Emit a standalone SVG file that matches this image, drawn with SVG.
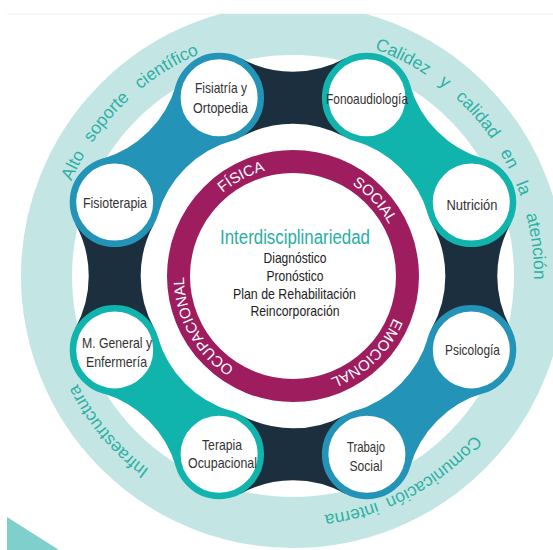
<svg xmlns="http://www.w3.org/2000/svg" xmlns:xlink="http://www.w3.org/1999/xlink" width="553" height="550" viewBox="0 0 553 550">
<defs>
<style>
.lbl{font-family:"Liberation Sans",Arial,sans-serif;font-size:14.5px;fill:#333;text-anchor:middle}
.ctr{font-family:"Liberation Sans",Arial,sans-serif;font-size:14.5px;fill:#222;text-anchor:middle}
.ring-t{font-family:"Liberation Sans",Arial,sans-serif;font-size:17.5px;fill:#2fb0a4;text-anchor:middle}
.mag-t{font-family:"Liberation Sans",Arial,sans-serif;font-size:15px;fill:#ffffff;text-anchor:middle}
.navy{fill:#1c2f3e}
.blue{fill:#2393b7}
.teal{fill:#10b4ad}
.nb{fill:#fff;stroke:#2393b7;stroke-width:6.5}
.nt{fill:#fff;stroke:#10b4ad;stroke-width:6.5}
</style>
<clipPath id="page"><rect x="7" y="14" width="546" height="536"/></clipPath>
<path id="outerArc" d="M293,517 A241,241 0 1 1 293,35 A241,241 0 1 1 293,517"/>
<path id="innerArc" d="M293,385 A109,109 0 1 1 293,167 A109,109 0 1 1 293,385"/>
<path id="conn" d="M217.7,-52.2 A108.2,108.2 0 0 0 217.7,52.2 L178.3,73.9 L138.9,52.2 A108.2,108.2 0 0 0 138.9,-52.2 L178.3,-73.9 Z"/>
</defs>
<rect width="553" height="550" fill="#fff"/>
<line x1="7" y1="14" x2="553" y2="14" stroke="#f1f1f1" stroke-width="1"/>
<g id="outer-ring">
<circle cx="293" cy="276" r="246.5" fill="none" stroke="#c3e6e4" stroke-width="51" clip-path="url(#page)"/>
<polygon points="7,517 59,550 7,550" fill="#7fd0cc"/>
<text class="ring-t"><textPath href="#outerArc" startOffset="490.9">Alto</textPath></text>
<text class="ring-t"><textPath href="#outerArc" startOffset="548.5">soporte</textPath></text>
<text class="ring-t"><textPath href="#outerArc" startOffset="625.9">científico</textPath></text>
<text class="ring-t"><textPath href="#outerArc" startOffset="869">Calidez</textPath></text>
<text class="ring-t"><textPath href="#outerArc" startOffset="917">y</textPath></text>
<text class="ring-t"><textPath href="#outerArc" startOffset="962.4">calidad</textPath></text>
<text class="ring-t"><textPath href="#outerArc" startOffset="1015.4">en</textPath></text>
<text class="ring-t"><textPath href="#outerArc" startOffset="1047.3">la</textPath></text>
<text class="ring-t"><textPath href="#outerArc" startOffset="1105.8">atención</textPath></text>
<text class="ring-t"><textPath href="#outerArc" startOffset="1364">Comunicación</textPath></text>
<text class="ring-t"><textPath href="#outerArc" startOffset="1455.5">interna</textPath></text>
<text class="ring-t"><textPath href="#outerArc" startOffset="210.3">Infraestructura</textPath></text>
</g>
<g id="connectors">
<use href="#conn" class="navy" transform="translate(293,276) rotate(0)"/>
<use href="#conn" class="blue" transform="translate(293,276) rotate(45)"/>
<use href="#conn" class="navy" transform="translate(293,276) rotate(90)"/>
<use href="#conn" class="teal" transform="translate(293,276) rotate(135)"/>
<use href="#conn" class="navy" transform="translate(293,276) rotate(180)"/>
<use href="#conn" class="blue" transform="translate(293,276) rotate(225)"/>
<use href="#conn" class="navy" transform="translate(293,276) rotate(270)"/>
<use href="#conn" class="teal" transform="translate(293,276) rotate(315)"/>
</g>
<g id="center">
<circle cx="293" cy="276" r="114.5" fill="none" stroke="#9d1d5f" stroke-width="23"/>
<text class="mag-t"><textPath href="#innerArc" startOffset="289.7">FÍSICA</textPath></text>
<text class="mag-t"><textPath href="#innerArc" startOffset="431.8">SOCIAL</textPath></text>
<text class="mag-t"><textPath href="#innerArc" startOffset="601.2">EMOCIONAL</textPath></text>
<text class="mag-t"><textPath href="#innerArc" startOffset="116">OCUPACIONAL</textPath></text>
<text class="ctr" x="295" y="244" style="font-size:19.5px;fill:#29aea4" textLength="150" lengthAdjust="spacingAndGlyphs">Interdisciplinariedad</text>
<text class="ctr" x="295" y="262.5" textLength="63" lengthAdjust="spacingAndGlyphs">Diagnóstico</text>
<text class="ctr" x="295" y="280.5" textLength="57" lengthAdjust="spacingAndGlyphs">Pronóstico</text>
<text class="ctr" x="294.5" y="298.5" textLength="123" lengthAdjust="spacingAndGlyphs">Plan de Rehabilitación</text>
<text class="ctr" x="295" y="316" textLength="89" lengthAdjust="spacingAndGlyphs">Reincorporación</text>
</g>
<g id="n-fisiatria">
<circle class="nb" cx="219.1" cy="97.7" r="41.75"/>
<text class="lbl" x="221" y="93" textLength="52" lengthAdjust="spacingAndGlyphs">Fisiatría y</text>
<text class="lbl" x="220.5" y="113" textLength="55" lengthAdjust="spacingAndGlyphs">Ortopedia</text>
</g>
<g id="n-fisioterapia">
<circle class="nb" cx="114.7" cy="202.1" r="41.75"/>
<text class="lbl" x="115" y="208" textLength="64" lengthAdjust="spacingAndGlyphs">Fisioterapia</text>
</g>
<g id="n-fono">
<circle class="nt" cx="366.9" cy="97.7" r="41.75"/>
<text class="lbl" x="367" y="103.5" textLength="82" lengthAdjust="spacingAndGlyphs">Fonoaudiología</text>
</g>
<g id="n-nutricion">
<circle class="nt" cx="471.3" cy="202.1" r="41.75"/>
<text class="lbl" x="472" y="210" textLength="51" lengthAdjust="spacingAndGlyphs">Nutrición</text>
</g>
<g id="n-psicologia">
<circle class="nb" cx="471.3" cy="349.9" r="41.75"/>
<text class="lbl" x="472.5" y="355" textLength="55" lengthAdjust="spacingAndGlyphs">Psicología</text>
</g>
<g id="n-trabajo">
<circle class="nb" cx="366.9" cy="454.3" r="41.75"/>
<text class="lbl" x="366" y="452" textLength="38" lengthAdjust="spacingAndGlyphs">Trabajo</text>
<text class="lbl" x="366" y="471" textLength="33" lengthAdjust="spacingAndGlyphs">Social</text>
</g>
<g id="n-terapia">
<circle class="nt" cx="219.1" cy="454.3" r="41.75"/>
<text class="lbl" x="222" y="450" textLength="40" lengthAdjust="spacingAndGlyphs">Terapia</text>
<text class="lbl" x="222.5" y="468" textLength="69" lengthAdjust="spacingAndGlyphs">Ocupacional</text>
</g>
<g id="n-mgeneral">
<circle class="nt" cx="114.7" cy="349.9" r="41.75"/>
<text class="lbl" x="117" y="348" textLength="70" lengthAdjust="spacingAndGlyphs">M. General y</text>
<text class="lbl" x="116.5" y="367" textLength="61" lengthAdjust="spacingAndGlyphs">Enfermería</text>
</g>
</svg>
